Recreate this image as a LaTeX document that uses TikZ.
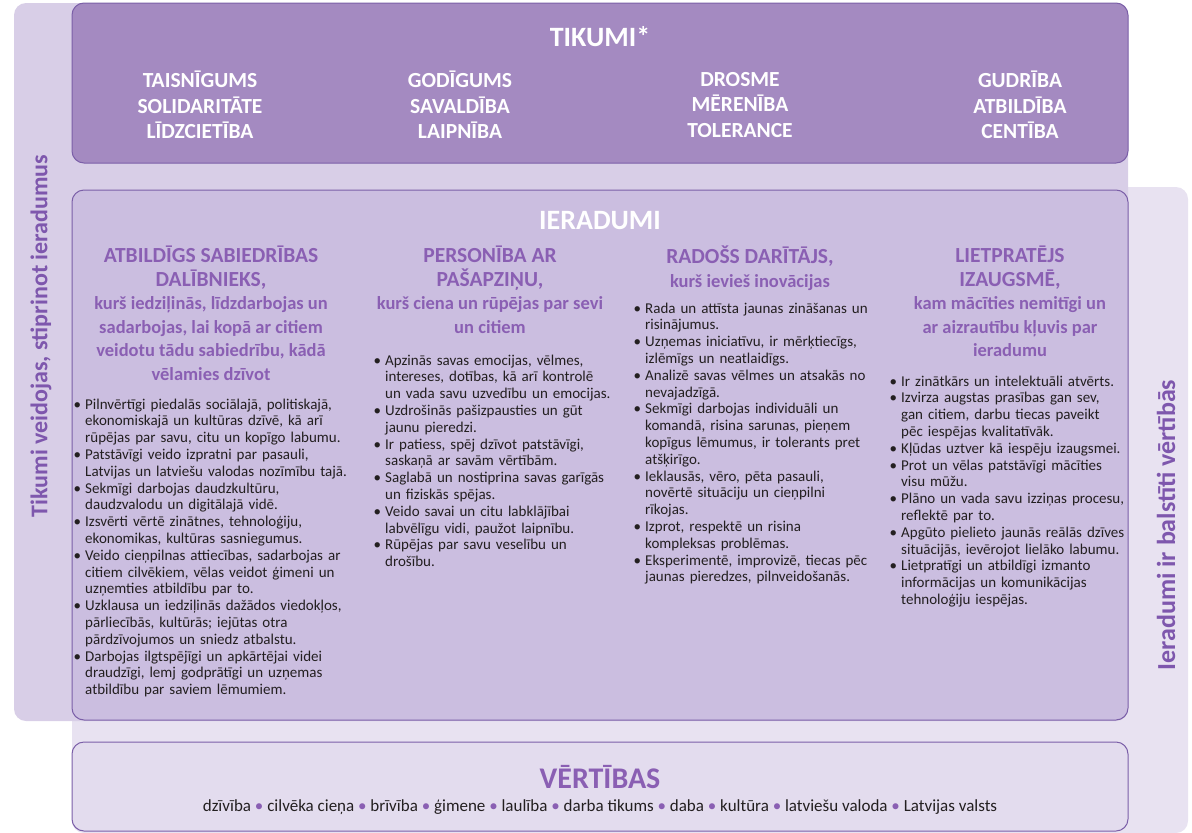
\documentclass[tikz,border=0pt]{standalone}
\usepackage{fontspec}
\setmainfont{Carlito}
\usepackage{enumitem}
\usetikzlibrary{positioning}

\definecolor{tikfill}{HTML}{A48AC1}
\definecolor{tikband}{HTML}{D8CEE7}
\definecolor{ierfill}{HTML}{CBBEE0}
\definecolor{vertband}{HTML}{E8E2F1}
\definecolor{vertfill}{HTML}{E3DCEE}
\definecolor{edgepurple}{HTML}{7B5FA8}
\definecolor{headpurple}{HTML}{8A5FB3}
\definecolor{sidepurple}{HTML}{7E57AD}
\definecolor{bodytext}{HTML}{231F20}

\newcommand{\vsep}{\textcolor{headpurple}{\ \textbullet\ }}
\newcommand{\subline}{\fontsize{18.5}{23.5}\selectfont}
\newenvironment{pointlist}{\begin{itemize}[leftmargin=9pt,labelsep=4pt,itemsep=0pt,topsep=0pt,parsep=0pt,partopsep=0pt,label=\textbullet]}{\end{itemize}}

\tikzset{
  mainbox/.style={draw=edgepurple,line width=1pt,rounded corners=12pt},
  virtue/.style={align=center,text=white,inner sep=0pt,font=\bfseries\fontsize{21.5}{25.5}\selectfont},
  title/.style={inner sep=0pt,font=\bfseries\fontsize{28}{32}\selectfont},
  colhead/.style={anchor=north,align=center,inner sep=0pt,text=headpurple,font=\bfseries\fontsize{21.5}{23.5}\selectfont},
  points/.style={anchor=north west,inner sep=0pt,text width=300pt,align=left,text=bodytext,font=\fontsize{15}{16.8}\selectfont},
  sidetext/.style={rotate=90,inner sep=0pt,text=sidepurple,font=\bfseries\fontsize{24}{28}\selectfont}
}

\begin{document}
\begin{tikzpicture}[x=1pt,y=-1pt]
\useasboundingbox (0,0) rectangle (1192,833);

% background bands
\fill[vertband,rounded corners=12pt] (72,187) rectangle (1188,833);
\fill[tikband,rounded corners=12pt] (14,3) rectangle (1128,721);

% boxes
\draw[mainbox,fill=tikfill] (72,3) rectangle (1128,163);
\draw[mainbox,fill=ierfill] (72,190) rectangle (1128,720);
\draw[mainbox,fill=vertfill] (72,742) rectangle (1128,831);

\node[sidetext] (left) at (41,336) {Tikumi veidojas, stiprinot ieradumus};
\node[sidetext,font=\bfseries\fontsize{26}{30}\selectfont] (right) at (1166,525) {Ieradumi ir balstīti vērtībās};

% TIKUMI
\node[title,text=white] (tikumi) at (600,37) {TIKUMI*};
\node[virtue] (v1) at (200,105) {TAISNĪGUMS\\SOLIDARITĀTE\\LĪDZCIETĪBA};
\node[virtue] (v2) at (460,105) {GODĪGUMS\\SAVALDĪBA\\LAIPNĪBA};
\node[virtue] (v3) at (740,105) {DROSME\\MĒRENĪBA\\TOLERANCE};
\node[virtue] (v4) at (1020,105) {GUDRĪBA\\ATBILDĪBA\\CENTĪBA};

% IERADUMI
\node[title,text=white] (ieradumi) at (600,221) {IERADUMI};

\node[colhead] (h1) at (211,246) {ATBILDĪGS SABIEDRĪBAS\\DALĪBNIEKS,\\
  {\subline kurš iedziļinās, līdzdarbojas un}\\{\subline sadarbojas, lai kopā ar citiem}\\
  {\subline veidotu tādu sabiedrību, kādā}\\{\subline vēlamies dzīvot}};
\node[colhead] (h2) at (490,246) {PERSONĪBA AR\\PAŠAPZIŅU,\\
  {\subline kurš ciena un rūpējas par sevi}\\{\subline un citiem}};
\node[colhead] (h3) at (750,246) {RADOŠS DARĪTĀJS,\\{\subline kurš ievieš inovācijas}};
\node[colhead] (h4) at (1010,246) {LIETPRATĒJS\\IZAUGSMĒ,\\
  {\subline kam mācīties nemitīgi un}\\{\subline ar aizrautību kļuvis par}\\{\subline ieradumu}};

\node[points] (p1) at (76,392) {\begin{pointlist}
  \item Pilnvērtīgi piedalās sociālajā, politiskajā,\\ekonomiskajā un kultūras dzīvē, kā arī\\rūpējas par savu, citu un kopīgo labumu.
  \item Patstāvīgi veido izpratni par pasauli,\\Latvijas un latviešu valodas nozīmību tajā.
  \item Sekmīgi darbojas daudzkultūru,\\daudzvalodu un digitālajā vidē.
  \item Izsvērti vērtē zinātnes, tehnoloģiju,\\ekonomikas, kultūras sasniegumus.
  \item Veido cieņpilnas attiecības, sadarbojas ar\\citiem cilvēkiem, vēlas veidot ģimeni un\\uzņemties atbildību par to.
  \item Uzklausa un iedziļinās dažādos viedokļos,\\pārliecībās, kultūrās; iejūtas otra\\pārdzīvojumos un sniedz atbalstu.
  \item Darbojas ilgtspējīgi un apkārtējai videi\\draudzīgi, lemj godprātīgi un uzņemas\\atbildību par saviem lēmumiem.
\end{pointlist}};

\node[points] (p2) at (376,348) {\begin{pointlist}
  \item Apzinās savas emocijas, vēlmes,\\intereses, dotības, kā arī kontrolē\\un vada savu uzvedību un emocijas.
  \item Uzdrošinās pašizpausties un gūt\\jaunu pieredzi.
  \item Ir patiess, spēj dzīvot patstāvīgi,\\saskaņā ar savām vērtībām.
  \item Saglabā un nostiprina savas garīgās\\un fiziskās spējas.
  \item Veido savai un citu labklājībai\\labvēlīgu vidi, paužot laipnību.
  \item Rūpējas par savu veselību un\\drošību.
\end{pointlist}};

\node[points] (p3) at (636,296) {\begin{pointlist}
  \item Rada un attīsta jaunas zināšanas un\\risinājumus.
  \item Uzņemas iniciatīvu, ir mērķtiecīgs,\\izlēmīgs un neatlaidīgs.
  \item Analizē savas vēlmes un atsakās no\\nevajadzīgā.
  \item Sekmīgi darbojas individuāli un\\komandā, risina sarunas, pieņem\\kopīgus lēmumus, ir tolerants pret\\atšķirīgo.
  \item Ieklausās, vēro, pēta pasauli,\\novērtē situāciju un cieņpilni\\rīkojas.
  \item Izprot, respektē un risina\\kompleksas problēmas.
  \item Eksperimentē, improvizē, tiecas pēc\\jaunas pieredzes, pilnveidošanās.
\end{pointlist}};

\node[points] (p4) at (892,369) {\begin{pointlist}
  \item Ir zinātkārs un intelektuāli atvērts.
  \item Izvirza augstas prasības gan sev,\\gan citiem, darbu tiecas paveikt\\pēc iespējas kvalitatīvāk.
  \item Kļūdas uztver kā iespēju izaugsmei.
  \item Prot un vēlas patstāvīgi mācīties\\visu mūžu.
  \item Plāno un vada savu izziņas procesu,\\reflektē par to.
  \item Apgūto pielieto jaunās reālās dzīves\\situācijās, ievērojot lielāko labumu.
  \item Lietpratīgi un atbildīgi izmanto\\informācijas un komunikācijas\\tehnoloģiju iespējas.
\end{pointlist}};

% VERTIBAS
\node[title,text=headpurple,font=\bfseries\fontsize{30}{34}\selectfont] (vertibas) at (600,777) {VĒRTĪBAS};
\node[inner sep=0pt,text=bodytext,font=\fontsize{17}{20}\selectfont] (values) at (600,807)
  {dzīvība\vsep cilvēka cieņa\vsep brīvība\vsep ģimene\vsep laulība\vsep darba tikums\vsep daba\vsep kultūra\vsep latviešu valoda\vsep Latvijas valsts};
\end{tikzpicture}
\end{document}
